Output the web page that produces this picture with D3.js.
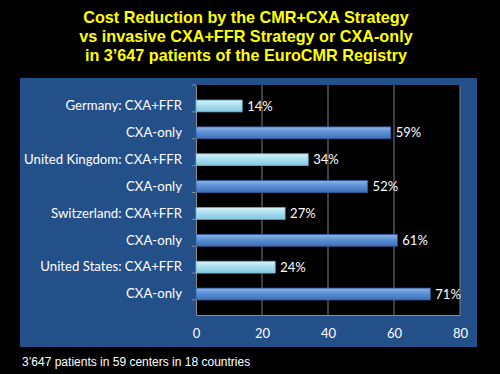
<!DOCTYPE html>
<html>
<head>
<meta charset="utf-8">
<script src="https://cdn.jsdelivr.net/npm/d3@7"></script>
<style>
  body { margin: 0; background: #000; }
  svg { display: block; }
</style>
</head>
<body>
<div id="chart"></div>
<script>
// Chart data
const labels = [
  "Germany: CXA+FFR", "CXA-only",
  "United Kingdom: CXA+FFR", "CXA-only",
  "Switzerland: CXA+FFR", "CXA-only",
  "United States: CXA+FFR", "CXA-only"
];
const kinds = ["ffr", "only", "ffr", "only", "ffr", "only", "ffr", "only"];
const values = [14, 59, 34, 52, 27, 61, 24, 71];
const xTicks = [0, 20, 40, 60, 80];
const titleLines = [
  "Cost Reduction by the CMR+CXA Strategy",
  "vs invasive CXA+FFR Strategy or CXA-only",
  "in 3\u2019647 patients of the EuroCMR Registry"
];
const footnote = "3\u2019647 patients in 59 centers in 18 countries";

const data = labels.map((l, i) => ({ id: i, label: l, kind: kinds[i], value: values[i] }));

const width = 500, height = 374;
const plot = { left: 196, right: 460, top: 85, bottom: 315 };

const svg = d3.select("#chart").append("svg")
  .attr("width", width)
  .attr("height", height);

const defs = svg.append("defs");
const grads = {
  ffr: ["#d8f2fa", "#a9def0", "#86c8e0"],
  only: ["#8fb6ea", "#5b8fd6", "#3f70b8"]
};
Object.entries(grads).forEach(([k, c]) => {
  const g = defs.append("linearGradient")
    .attr("id", "g-" + k).attr("x1", 0).attr("y1", 0).attr("x2", 0).attr("y2", 1);
  g.append("stop").attr("offset", "0%").attr("stop-color", c[0]);
  g.append("stop").attr("offset", "45%").attr("stop-color", c[1]);
  g.append("stop").attr("offset", "100%").attr("stop-color", c[2]);
});

// background panel
svg.append("rect").attr("width", width).attr("height", height).attr("fill", "#000");
svg.append("rect")
  .attr("x", 20).attr("y", 78)
  .attr("width", 457).attr("height", 269)
  .attr("fill", "#24508a");

// title
svg.append("g").selectAll("text")
  .data(titleLines)
  .join("text")
  .attr("x", 246)
  .attr("y", (d, i) => 23 + i * 19)
  .attr("text-anchor", "middle")
  .attr("fill", "#ffff00")
  .attr("font-family", "Liberation Sans, Arial, sans-serif")
  .attr("font-weight", "bold")
  .attr("font-size", 16.2)
  .text(d => d);

const x = d3.scaleLinear().domain([0, 80]).range([plot.left, plot.right]);
const y = d3.scaleBand().domain(data.map(d => d.id)).range([plot.top, plot.bottom]).padding(0.56);

// plot area
svg.append("rect")
  .attr("x", plot.left).attr("y", plot.top)
  .attr("width", plot.right - plot.left).attr("height", plot.bottom - plot.top)
  .attr("fill", "#000");

// gridlines
svg.append("g").selectAll("line")
  .data(xTicks.slice(1))
  .join("line")
  .attr("x1", d => x(d)).attr("x2", d => x(d))
  .attr("y1", plot.top).attr("y2", plot.bottom)
  .attr("stroke", "#7f7f7f").attr("stroke-width", 1);

// x axis
const xAxis = svg.append("g")
  .attr("transform", `translate(0,${plot.bottom})`)
  .call(d3.axisBottom(x).tickValues(xTicks).tickSize(0).tickPadding(14));
xAxis.select(".domain").attr("stroke", "#8c8c8c");
xAxis.selectAll("text")
  .attr("fill", "#fff")
  .attr("font-family", "Lato, 'Open Sans', sans-serif")
  .attr("font-size", 13);

// y axis with ticks at band edges
const yAxis = svg.append("g")
  .attr("transform", `translate(${plot.left},0)`)
  .call(d3.axisLeft(y).tickSize(0).tickPadding(14).tickFormat(i => labels[i]));
yAxis.select(".domain").attr("stroke", "#8c8c8c");
yAxis.selectAll("text")
  .attr("fill", "#fff")
  .attr("font-family", "Lato, 'Open Sans', sans-serif")
  .attr("font-size", 13.2);

const step = y.step();
svg.append("g").selectAll("line")
  .data(d3.range(data.length + 1))
  .join("line")
  .attr("x1", plot.left - 4).attr("x2", plot.left)
  .attr("y1", i => plot.top + i * step).attr("y2", i => plot.top + i * step)
  .attr("stroke", "#8c8c8c");

// bars
svg.append("g").selectAll("rect")
  .data(data)
  .join("rect")
  .attr("x", x(0))
  .attr("y", d => y(d.id))
  .attr("width", d => x(d.value) - x(0))
  .attr("height", y.bandwidth())
  .attr("fill", d => `url(#g-${d.kind})`)
  .attr("stroke", d => d.kind === "ffr" ? "#6aaecb" : "#2f5f9f")
  .attr("stroke-width", 0.8);

// value labels
svg.append("g").selectAll("text")
  .data(data)
  .join("text")
  .attr("x", d => x(d.value) + 5)
  .attr("y", d => y(d.id) + y.bandwidth() / 2)
  .attr("dy", "0.35em")
  .attr("fill", "#fff")
  .attr("font-family", "Lato, 'Open Sans', sans-serif")
  .attr("font-size", 13)
  .text(d => d.value + "%");

// footnote
svg.append("text")
  .attr("x", 22).attr("y", 366)
  .attr("fill", "#fff")
  .attr("font-family", "Liberation Sans, Arial, sans-serif")
  .attr("font-size", 12)
  .text(footnote);
</script>
</body>
</html>
